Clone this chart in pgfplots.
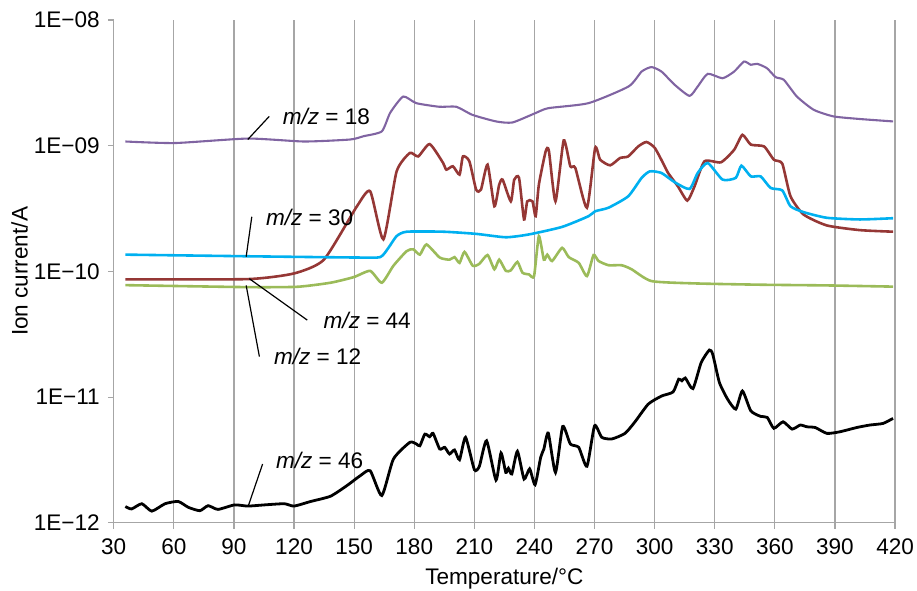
\documentclass[border=0pt]{standalone}
\usepackage{pgfplots}
\pgfplotsset{compat=1.18}
\usepackage{fontspec}
\setmainfont{Liberation Sans}
\definecolor{cpurple}{HTML}{8064A2}
\definecolor{cred}{HTML}{953735}
\definecolor{ccyan}{HTML}{00B0F0}
\definecolor{cgreen}{HTML}{9BBB59}
\definecolor{cgrid}{HTML}{A6A6A6}
\begin{document}
\begin{tikzpicture}[font=\fontsize{11.3}{13}\selectfont]
\begin{axis}[
  scale only axis,
  width=391.5pt, height=252pt,
  ymode=log,
  xmin=30, xmax=420, ymin=1e-12, ymax=1e-8,
  xtick={30,60,...,420},
  ytick={1e-12,1e-11,1e-10,1e-9,1e-8},
  yticklabels={1E−12,1E−11,1E−10,1E−09,1E−08},
  /pgf/number format/assume math mode=true,
  axis x line*=bottom, axis y line*=left,
  axis line style={cgrid, line width=0.6pt, -},
  tick style={cgrid, line width=0.6pt},
  tick align=outside,
  major tick length=3pt,
  minor tick num=0,
  yminorticks=false,
  xmajorgrids,
  major grid style={cgrid, line width=0.6pt},
  xticklabel style={yshift=-1.5pt},
  yticklabel style={xshift=-0.5pt},
  xlabel={Temperature/°C},
  ylabel={Ion current/A},
  xlabel style={at={(axis description cs:0.5,-0.111)}, anchor=center},
  ylabel style={at={(axis description cs:-0.1207,0.5)}, anchor=center},
  clip=false,
  every axis plot/.append style={line width=1.3pt, smooth, tension=0.35},
]
% m/z = 18
\addplot[cpurple, line width=1.05pt] coordinates {
(35.8,1.08e-9)(60.6,1.05e-9)(97,1.14e-9)(125,1.08e-9)(148,1.12e-9)(154.7,1.19e-9)
(163.8,1.30e-9)(168,1.83e-9)(174.5,2.46e-9)(181,2.18e-9)(192.5,2.04e-9)(201,2.04e-9)
(209,1.76e-9)(220.8,1.56e-9)(229,1.53e-9)(240.6,1.82e-9)(247,1.99e-9)(267,2.18e-9)
(287,2.96e-9)(293.5,3.89e-9)(298.4,4.22e-9)(303.4,3.89e-9)(310,3.05e-9)(317.4,2.49e-9)
(321.5,2.96e-9)(326.5,3.73e-9)(333.9,3.44e-9)(339.7,3.89e-9)(344.6,4.67e-9)(348,4.40e-9)
(351.2,4.48e-9)(356,4.14e-9)(360.4,3.51e-9)(364.5,3.34e-9)(371,2.46e-9)(379.4,1.93e-9)
(389.3,1.71e-9)(402.5,1.63e-9)(419,1.56e-9)
};
% m/z = 44
\addplot[cred] coordinates {
(35.8,8.65e-11)(96.9,8.69e-11)(120,9.64e-11)(134.9,1.24e-10)(151.4,3.30e-10)(158,4.34e-10)
(164.6,1.80e-10)(171.2,6.25e-10)(177.8,8.75e-10)(182,8.22e-10)(187.7,1.03e-9)(194.4,7.29e-10)
(196,6.45e-10)(199.3,6.86e-10)(202.6,5.89e-10)(204.3,8.22e-10)(207.5,7.52e-10)(210.9,4.47e-10)
(213.3,4.47e-10)(216.6,7.07e-10)(220,3.30e-10)(222.4,4.90e-10)(224.1,5.37e-10)(228.2,3.61e-10)
(229.9,5.37e-10)(232.3,5.55e-10)(234.8,2.59e-10)(236.4,3.61e-10)(239,3.61e-10)(240.6,2.75e-10)
(242.2,4.90e-10)(245.6,9.01e-10)(247.2,9.12e-10)(250.5,3.61e-10)(254.6,1.10e-9)(257.9,6.86e-10)
(260.4,6.65e-10)(266.2,3.21e-10)(270.3,9.59e-10)(272.8,7.74e-10)(277.8,6.98e-10)(282.7,7.98e-10)
(286.8,8.22e-10)(291.8,9.87e-10)(295.9,1.07e-9)(300.1,9.59e-10)(305,6.86e-10)(306.7,6.07e-10)
(311.6,4.75e-10)(316.3,3.66e-10)(319.9,4.75e-10)(324.9,7.52e-10)(333.1,7.38e-10)(339.7,9.29e-10)
(343.8,1.22e-9)(348,1.02e-9)(354.6,9.87e-10)(359.5,7.74e-10)(363.7,7.20e-10)(367.8,3.96e-10)
(374.4,2.83e-10)(386,2.32e-10)(402.5,2.13e-10)(419,2.07e-10)
};
% m/z = 30
\addplot[ccyan] coordinates {
(35.8,1.36e-10)(96.9,1.32e-10)(151.4,1.29e-10)(163,1.30e-10)(167.1,1.54e-10)(171.2,1.91e-10)
(176.2,2.07e-10)(194.4,2.07e-10)(210.9,1.99e-10)(225.7,1.87e-10)(237.3,1.97e-10)(253.8,2.26e-10)
(267,2.75e-10)(270.3,3.01e-10)(276.9,3.21e-10)(286.8,3.96e-10)(293.5,5.55e-10)(297.6,6.25e-10)
(303.4,6.07e-10)(310,5.12e-10)(317.4,4.53e-10)(321.5,6.07e-10)(326.5,7.29e-10)(333.9,5.37e-10)
(340.5,5.55e-10)(343.3,6.94e-10)(348,5.70e-10)(352.9,5.70e-10)(357.9,4.61e-10)(363.7,4.41e-10)
(367.8,3.30e-10)(374.4,2.96e-10)(386,2.67e-10)(402.5,2.59e-10)(419,2.65e-10)
};
% m/z = 12
\addplot[cgreen] coordinates {
(35.8,7.78e-11)(96.9,7.50e-11)(121.7,7.55e-11)(138.2,8.13e-11)(149.8,9.01e-11)(158,1.01e-10)
(163.8,8.13e-11)(169.6,1.11e-10)(176.2,1.45e-10)(179.5,1.50e-10)(182.8,1.36e-10)(186.1,1.64e-10)
(192.7,1.29e-10)(197.6,1.24e-10)(200.1,1.30e-10)(202.6,1.17e-10)(205.1,1.43e-10)(209.2,1.11e-10)
(212.5,1.15e-10)(216.6,1.35e-10)(220,1.04e-10)(222.4,1.24e-10)(225.7,1.01e-10)(228.2,1.02e-10)
(231.5,1.19e-10)(234,9.77e-11)(237.3,9.46e-11)(239.8,9.18e-11)(242.2,1.91e-10)(244.7,1.24e-10)
(246.4,1.36e-10)(248.8,1.21e-10)(253.8,1.54e-10)(257.1,1.30e-10)(262.1,1.17e-10)(266.2,9.18e-11)
(269.5,1.35e-10)(272,1.21e-10)(277,1.12e-10)(283.5,1.12e-10)(288.5,1.04e-10)(298.4,8.38e-11)
(319.9,8.03e-11)(352.9,7.84e-11)(386,7.74e-11)(419,7.57e-11)
};
% m/z = 46
\addplot[black, line width=1.4pt] coordinates {
(35.8,1.35e-12)(38.9,1.29e-12)(44,1.42e-12)(49,1.24e-12)(55.6,1.42e-12)(62.2,1.48e-12)
(67.2,1.33e-12)(73,1.25e-12)(77.1,1.37e-12)(82,1.28e-12)(90.3,1.39e-12)(96.9,1.36e-12)
(105.2,1.39e-12)(115.1,1.42e-12)(120,1.36e-12)(128.3,1.48e-12)(138.2,1.63e-12)(146.4,1.98e-12)
(153,2.37e-12)(158,2.60e-12)(163.8,1.65e-12)(169.6,3.22e-12)(177.8,4.37e-12)(181.1,4.24e-12)
(182.8,4.10e-12)(185.3,5.08e-12)(187.7,4.84e-12)(189.4,5.15e-12)(192.7,3.87e-12)(195.2,3.99e-12)
(197.6,3.53e-12)(200.1,3.80e-12)(202.6,3.18e-12)(205.6,4.79e-12)(210,2.65e-12)(212.5,2.82e-12)
(216.1,4.50e-12)(220.8,2.19e-12)(223.3,3.60e-12)(225.7,2.52e-12)(227,2.72e-12)(228.7,2.45e-12)
(231.5,3.71e-12)(234.8,2.23e-12)(237.6,2.69e-12)(240.3,2.01e-12)(243.1,3.32e-12)(244.7,3.87e-12)
(246.9,5.18e-12)(250.5,2.52e-12)(254.1,5.85e-12)(257.9,4.24e-12)(262.1,3.99e-12)(266.2,2.82e-12)
(270,5.92e-12)(273.6,4.79e-12)(278.6,4.65e-12)(285.2,5.15e-12)(290.2,6.37e-12)(296.8,8.80e-12)
(303.4,1.02e-11)(309.2,1.10e-11)(312,1.39e-11)(313.6,1.35e-11)(315.3,1.42e-11)(319.1,1.17e-11)
(323.2,1.88e-11)(327.3,2.37e-11)(329,2.19e-11)(332.3,1.31e-11)(336.4,9.64e-12)(340.5,8.03e-12)
(343.8,1.12e-11)(348,7.78e-12)(352.9,7.03e-12)(356.2,6.90e-12)(359.5,5.65e-12)(364.1,6.37e-12)
(368.6,5.57e-12)(372.7,6.00e-12)(376,5.81e-12)(380.2,5.73e-12)(386,5.15e-12)(392.6,5.31e-12)
(400.8,5.73e-12)(407.4,6.00e-12)(414,6.18e-12)(419,6.78e-12)
};
% annotations
\draw[black, line width=0.6pt] (axis cs:107.6,1.71e-9) -- (axis cs:96.9,1.12e-9);
\node[anchor=west, inner sep=0pt] at (axis cs:114.2,1.70e-9) {\textit{m/z} = 18};
\draw[black, line width=0.6pt] (axis cs:98.9,2.72e-10) -- (axis cs:96.1,1.31e-10);
\node[anchor=west, inner sep=0pt] at (axis cs:105.8,2.68e-10) {\textit{m/z} = 30};
\draw[black, line width=0.6pt] (axis cs:126.6,4.10e-11) -- (axis cs:97.7,8.75e-11);
\node[anchor=west, inner sep=0pt] at (axis cs:134.6,4.04e-11) {\textit{m/z} = 44};
\draw[black, line width=0.6pt] (axis cs:102.7,2.10e-11) -- (axis cs:96.1,7.74e-11);
\node[anchor=west, inner sep=0pt] at (axis cs:109.8,2.10e-11) {\textit{m/z} = 12};
\draw[black, line width=0.6pt] (axis cs:104.3,2.94e-12) -- (axis cs:97.2,1.37e-12);
\node[anchor=west, inner sep=0pt] at (axis cs:110.8,3.12e-12) {\textit{m/z} = 46};
\end{axis}
\pgfresetboundingbox
\path[use as bounding box] (-57pt,-34pt) rectangle (402.5pt,262pt);
\end{tikzpicture}
\end{document}
